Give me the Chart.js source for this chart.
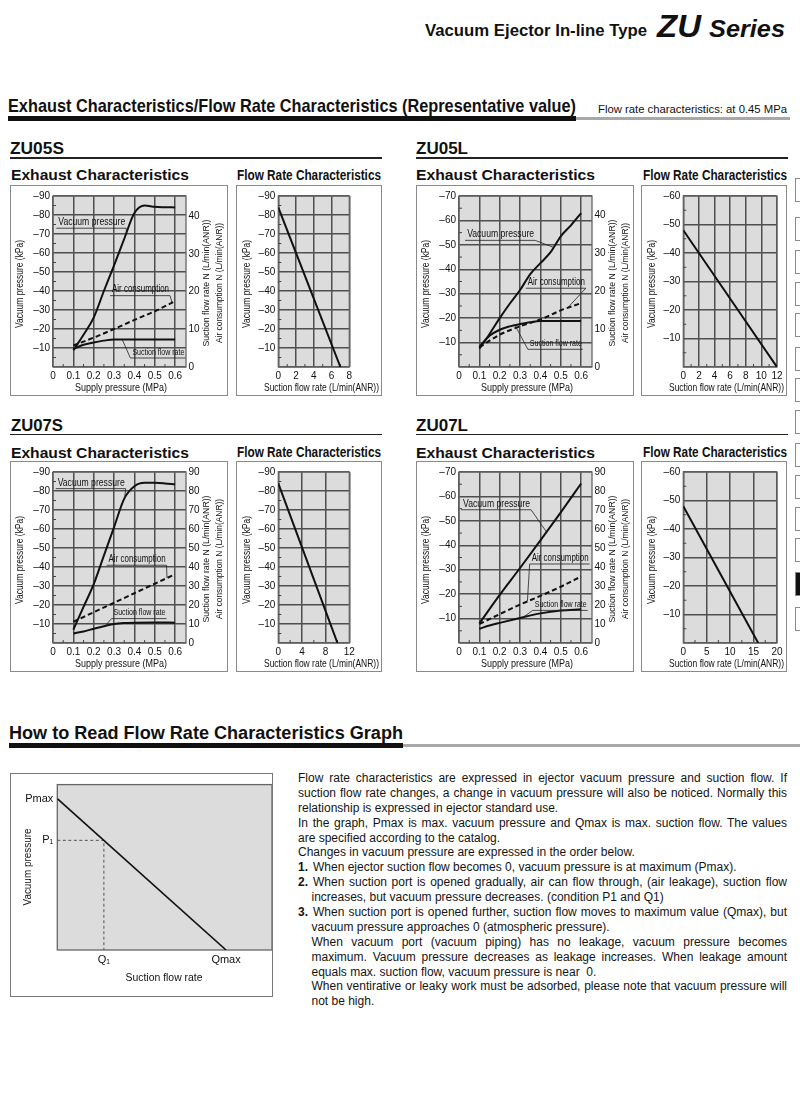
<!DOCTYPE html>
<html>
<head>
<meta charset="utf-8">
<script src="https://cdn.jsdelivr.net/npm/chart.js@4.4.1/dist/chart.umd.min.js"></script>
<style>
body{margin:0;background:#fff;font-family:"Liberation Sans",Arial,Helvetica,sans-serif;color:#111;}
#page{position:relative;width:800px;height:1100px;overflow:hidden;}
.t{position:absolute;white-space:nowrap;line-height:1;transform-origin:0 50%;}
.b{font-weight:bold;}
.bar{position:absolute;}
.box{position:absolute;border:1px solid #8a8a8a;box-sizing:border-box;}
.box canvas{position:absolute;left:0;top:0;}
.tab{position:absolute;left:795px;width:12px;height:24px;border:1px solid #8a8a8a;box-sizing:border-box;}
#para{position:absolute;left:298px;top:771px;width:489px;font-size:12px;line-height:14.9px;color:#141414;}
#para div{white-space:nowrap;height:14.9px;}
#para span{display:inline-block;transform-origin:0 50%;}
#para .in{padding-left:13.5px;}
#para .n{width:15px;font-weight:bold;}
</style>
</head>
<body>
<div id="page">

<!-- header -->
<div class="t b" data-w="222" style="left:425px;top:22px;font-size:17px;">Vacuum Ejector In-line Type</div>
<div class="t b" data-w="44" style="left:657px;top:11px;font-size:31px;font-style:italic;">ZU</div>
<div class="t b" data-w="76" style="left:709px;top:17px;font-size:24px;font-style:italic;">Series</div>

<div class="t b" data-w="568" style="left:8px;top:96px;font-size:19px;">Exhaust Characteristics/Flow Rate Characteristics (Representative value)</div>
<div class="t" data-w="189" style="left:598px;top:104px;font-size:11px;">Flow rate characteristics: at 0.45 MPa</div>
<div class="bar" style="left:8px;top:116px;width:568px;height:5px;background:#111;"></div>
<div class="bar" style="left:576px;top:117px;width:214px;height:3px;background:#a8a8a8;"></div>

<!-- row 1 -->
<div class="t b" data-w="54" style="left:10px;top:139.5px;font-size:17px;">ZU05S</div>
<div class="bar" style="left:10px;top:157px;width:372px;height:1.5px;background:#222;"></div>
<div class="t b" data-w="178" style="left:11px;top:167px;font-size:15.5px;">Exhaust Characteristics</div>
<div class="t b" data-w="144" style="left:237px;top:167.5px;font-size:14.5px;">Flow Rate Characteristics</div>
<div class="box" style="left:10px;top:185px;width:218px;height:211px;"><canvas id="ex05s" width="216" height="209"></canvas></div>
<div class="box" style="left:236px;top:185px;width:146px;height:211px;"><canvas id="fl05s" width="144" height="209"></canvas></div>

<div class="t b" data-w="52" style="left:416px;top:139.5px;font-size:17px;">ZU05L</div>
<div class="bar" style="left:416px;top:157px;width:372px;height:1.5px;background:#222;"></div>
<div class="t b" data-w="179" style="left:416px;top:167px;font-size:15.5px;">Exhaust Characteristics</div>
<div class="t b" data-w="144" style="left:643px;top:167.5px;font-size:14.5px;">Flow Rate Characteristics</div>
<div class="box" style="left:416px;top:185px;width:218px;height:211px;"><canvas id="ex05l" width="216" height="209"></canvas></div>
<div class="box" style="left:641px;top:185px;width:146px;height:211px;"><canvas id="fl05l" width="144" height="209"></canvas></div>

<!-- row 2 -->
<div class="t b" data-w="52" style="left:11px;top:416.5px;font-size:17px;">ZU07S</div>
<div class="bar" style="left:10px;top:433.5px;width:372px;height:1.5px;background:#222;"></div>
<div class="t b" data-w="178" style="left:11px;top:444.5px;font-size:15.5px;">Exhaust Characteristics</div>
<div class="t b" data-w="144" style="left:237px;top:445px;font-size:14.5px;">Flow Rate Characteristics</div>
<div class="box" style="left:10px;top:461px;width:218px;height:211px;"><canvas id="ex07s" width="216" height="209"></canvas></div>
<div class="box" style="left:236px;top:461px;width:146px;height:211px;"><canvas id="fl07s" width="144" height="209"></canvas></div>

<div class="t b" data-w="52" style="left:416px;top:416.5px;font-size:17px;">ZU07L</div>
<div class="bar" style="left:416px;top:433.5px;width:372px;height:1.5px;background:#222;"></div>
<div class="t b" data-w="179" style="left:416px;top:444.5px;font-size:15.5px;">Exhaust Characteristics</div>
<div class="t b" data-w="144" style="left:643px;top:445px;font-size:14.5px;">Flow Rate Characteristics</div>
<div class="box" style="left:416px;top:461px;width:218px;height:211px;"><canvas id="ex07l" width="216" height="209"></canvas></div>
<div class="box" style="left:641px;top:461px;width:146px;height:211px;"><canvas id="fl07l" width="144" height="209"></canvas></div>

<!-- how to read -->
<div class="t b" data-w="394" style="left:9px;top:724px;font-size:18px;">How to Read Flow Rate Characteristics Graph</div>
<div class="bar" style="left:9px;top:743px;width:394px;height:4.5px;background:#111;"></div>
<div class="bar" style="left:403px;top:744px;width:397px;height:3px;background:#a8a8a8;"></div>
<div class="box" style="left:10px;top:773px;width:263px;height:224px;border-color:#777;"><canvas id="howto" width="261" height="222"></canvas></div>

<div id="para">
<div class="j"><span>Flow rate characteristics are expressed in ejector vacuum pressure and suction flow. If</span></div>
<div class="j"><span>suction flow rate changes, a change in vacuum pressure will also be noticed. Normally this</span></div>
<div><span>relationship is expressed in ejector standard use.</span></div>
<div class="j"><span>In the graph, Pmax is max. vacuum pressure and Qmax is max. suction flow. The values</span></div>
<div><span>are specified according to the catalog.</span></div>
<div><span>Changes in vacuum pressure are expressed in the order below.</span></div>
<div><span class="n">1.</span><span>When ejector suction flow becomes 0, vacuum pressure is at maximum (Pmax).</span></div>
<div class="j"><span class="n">2.</span><span data-sub="15">When suction port is opened gradually, air can flow through, (air leakage), suction flow</span></div>
<div class="in"><span>increases, but vacuum pressure decreases. (condition P1 and Q1)</span></div>
<div class="j"><span class="n">3.</span><span data-sub="15">When suction port is opened further, suction flow moves to maximum value (Qmax), but</span></div>
<div class="in"><span>vacuum pressure approaches 0 (atmospheric pressure).</span></div>
<div class="j in"><span data-sub="13.5">When vacuum port (vacuum piping) has no leakage, vacuum pressure becomes</span></div>
<div class="j in"><span data-sub="13.5">maximum. Vacuum pressure decreases as leakage increases. When leakage amount</span></div>
<div class="in"><span>equals max. suction flow, vacuum pressure is near&nbsp; 0.</span></div>
<div class="j in"><span data-sub="13.5">When ventirative or leaky work must be adsorbed, please note that vacuum pressure will</span></div>
<div class="in"><span>not be high.</span></div>
</div>

<div id="tabs"></div>
</div>

<script>
// ===============================
// DATA
// ===============================

const supplyTicks = [0, 0.1, 0.2, 0.3, 0.4, 0.5, 0.6];

// ZU05S exhaust
const zu05sVacX = [0.1, 0.15, 0.2, 0.25, 0.3, 0.35, 0.4, 0.45, 0.5, 0.55, 0.6];
const zu05sVac  = [-8.8, -17, -26, -40, -53.5, -67.5, -81, -85, -84.3, -84.1, -84];
const zu05sAirX = [0.1, 0.2, 0.3, 0.4, 0.5, 0.59];
const zu05sAir  = [5.7, 7.8, 10.1, 12.5, 14.8, 17.2];
const zu05sSucX = [0.1, 0.15, 0.2, 0.25, 0.3, 0.4, 0.5, 0.6];
const zu05sSuc  = [4.8, 5.9, 6.5, 7.0, 7.3, 7.3, 7.3, 7.3];

// ZU05L exhaust
const zu05lVacX = [0.1, 0.15, 0.2, 0.25, 0.3, 0.35, 0.4, 0.45, 0.5, 0.55, 0.6];
const zu05lVac  = [-7.5, -13.5, -20, -26, -31.5, -38, -42.5, -47, -53.5, -58, -63];
const zu05lAirX = [0.1, 0.2, 0.3, 0.4, 0.5, 0.6];
const zu05lAir  = [5.2, 8.5, 10.7, 12.5, 14.9, 16.8];
const zu05lSucX = [0.1, 0.15, 0.2, 0.25, 0.3, 0.35, 0.4, 0.5, 0.6];
const zu05lSuc  = [5.3, 8.2, 9.8, 10.7, 11.3, 11.8, 12.1, 12.1, 12.1];

// ZU07S exhaust
const zu07sVacX = [0.1, 0.15, 0.2, 0.25, 0.3, 0.35, 0.4, 0.45, 0.5, 0.55, 0.6];
const zu07sVac  = [-7, -19, -31, -46, -61, -76, -82.5, -84.3, -84.3, -84, -83.5];
const zu07sAirX = [0.1, 0.2, 0.3, 0.4, 0.5, 0.59];
const zu07sAir  = [11.2, 16.2, 21.2, 26.2, 31.2, 35.7];
const zu07sSucX = [0.1, 0.15, 0.2, 0.25, 0.3, 0.35, 0.4, 0.5, 0.6];
const zu07sSuc  = [5.0, 6.1, 7.5, 8.8, 10.0, 10.5, 10.7, 10.8, 10.7];

// ZU07L exhaust
const zu07lVacX = [0.1, 0.2, 0.3, 0.4, 0.5, 0.6];
const zu07lVac  = [-8, -19.7, -30.7, -42, -53.5, -65.3];
const zu07lAirX = [0.1, 0.2, 0.3, 0.4, 0.5, 0.6];
const zu07lAir  = [10, 15.2, 20.2, 24.8, 29.6, 35];
const zu07lSucX = [0.1, 0.15, 0.2, 0.3, 0.4, 0.5, 0.6];
const zu07lSuc  = [7.5, 9.2, 10.6, 13.2, 15.6, 17.1, 17.7];

// flow rate characteristics (suction flow L/min(ANR) -> vacuum kPa)
const zu05sFlowQ = [0, 7];
const zu05sFlowP = [-84, 0];
const zu05lFlowQ = [0, 12];
const zu05lFlowP = [-48, 0];
const zu07sFlowQ = [0, 10];
const zu07sFlowP = [-84, 0];
const zu07lFlowQ = [0, 16];
const zu07lFlowP = [-48, 0];

const flowTicks05s = [0, 2, 4, 6, 8];
const flowTicks05l = [0, 2, 4, 6, 8, 10, 12];
const flowTicks07s = [0, 4, 8, 12];
const flowTicks07l = [0, 5, 10, 15, 20];

const vacTicks90 = [-90, -80, -70, -60, -50, -40, -30, -20, -10, 0];
const vacTicks70 = [-70, -60, -50, -40, -30, -20, -10, 0];
const vacTicks60 = [-60, -50, -40, -30, -20, -10, 0];
const flowTicks40 = [0, 10, 20, 30, 40];
const flowTicks90 = [0, 10, 20, 30, 40, 50, 60, 70, 80, 90];

// how to read (relative units)
const howQ = [0, 78.6];
const howP = [91.5, 0];
const howGuideQ = [0, 21.7, 21.7];
const howGuideP = [66.3, 66.3, 0];
const howXTicks = [21.7, 78.6];
const howXLabels = ["Q\u2081", "Qmax"];
const howYTicks = [66.3, 91.5];
const howYLabels = ["P\u2081", "Pmax"];

// ===============================
// HELPERS
// ===============================

const SANS = '"Liberation Sans", Arial, Helvetica, sans-serif';
const INK = "#111";
const GRID = "#4f4f4f";
const PLOT_BG = "#dcdcdc";

function pts(xs, ys) {
  return xs.map((x, i) => ({ x: x, y: ys[i] }));
}

function fixTicks(list) {
  return scale => { scale.ticks = list.map(v => ({ value: v })); };
}

function drawFitText(ctx, text, x, y, o) {
  ctx.save();
  ctx.font = (o.weight || "normal") + " " + o.size + "px " + SANS;
  const w = ctx.measureText(text).width;
  const sx = o.width ? o.width / w : 1;
  ctx.translate(x, y);
  if (o.rot) ctx.rotate(o.rot);
  ctx.scale(sx, 1);
  ctx.textAlign = o.align || "center";
  ctx.textBaseline = "middle";
  ctx.fillStyle = o.color || INK;
  ctx.fillText(text, 0, 0);
  ctx.restore();
  return w * sx;
}

// gray plot, frame and small in-between ticks
Chart.register({
  id: "plotFrame",
  beforeDraw(chart) {
    const a = chart.chartArea, ctx = chart.ctx;
    ctx.save();
    ctx.fillStyle = PLOT_BG;
    ctx.fillRect(a.left, a.top, a.right - a.left, a.bottom - a.top);
    ctx.restore();
  },
  beforeDatasetsDraw(chart, args, opts) {
    const a = chart.chartArea, ctx = chart.ctx;
    ctx.save();
    ctx.strokeStyle = "#666";
    ctx.lineWidth = 1.3;
    ctx.strokeRect(a.left, a.top, a.right - a.left, a.bottom - a.top);
    if (opts.minor) {
      ctx.strokeStyle = "#444";
      ctx.lineWidth = 1;
      ctx.beginPath();
      const ys = chart.scales.y, xs = chart.scales.x;
      const yt = ys.ticks.map(t => t.value);
      for (let i = 1; i < yt.length; i++) {
        const py = ys.getPixelForValue((yt[i - 1] + yt[i]) / 2);
        ctx.moveTo(a.left, py); ctx.lineTo(a.left + 3, py);
      }
      const xt = xs.ticks.map(t => t.value);
      for (let i = 1; i < xt.length; i++) {
        const px = xs.getPixelForValue((xt[i - 1] + xt[i]) / 2);
        ctx.moveTo(px, a.bottom); ctx.lineTo(px, a.bottom - 3);
      }
      ctx.stroke();
    }
    ctx.restore();
  }
});

// axis titles
Chart.register({
  id: "axisText",
  afterDraw(chart, args, opts) {
    if (!opts.items) return;
    opts.items.forEach(t => {
      drawFitText(chart.ctx, t.text, t.x, t.y, { size: t.size, width: t.width, rot: t.rot ? -Math.PI / 2 : 0 });
    });
  }
});

// callout labels with leader lines
const noteStyle = {
  "Vacuum pressure": { size: 10.5, width: 67 },
  "Air consumption": { size: 10, width: 57 },
  "Suction flow rate": { size: 9.5, width: 52 }
};

Chart.register({
  id: "callouts",
  afterDatasetsDraw(chart, args, opts) {
    if (!opts.items) return;
    const ctx = chart.ctx, xs = chart.scales.x, ys = chart.scales.y;
    opts.items.forEach(n => {
      const x = xs.getPixelForValue(n.tx), y = ys.getPixelForValue(n.ty);
      const st = noteStyle[n.text];
      const w = drawFitText(ctx, n.text, x, y, { size: st.size, width: st.width, align: "left" });
      const uy = y + 6;
      const line = chart.getDatasetMeta(n.series).data;
      const px = xs.getPixelForValue(n.px);
      let py = line[0].y;
      for (let i = 1; i < line.length; i++) {
        if (line[i].x >= px) {
          const a = line[i - 1], b = line[i];
          py = a.y + (b.y - a.y) * (px - a.x) / (b.x - a.x);
          break;
        }
      }
      const sx = n.side === "left" ? x - 2 : x + w + 1;
      ctx.save();
      ctx.strokeStyle = "#222";
      ctx.lineWidth = 0.8;
      ctx.beginPath();
      ctx.moveTo(x - 2, uy); ctx.lineTo(x + w + 1, uy);
      ctx.moveTo(sx, uy); ctx.lineTo(px, py);
      ctx.stroke();
      ctx.restore();
    });
  }
});

const tickFont = { family: SANS, size: 10 };
const minusLabel = v => (v === 0 ? "" : "\u2013" + Math.abs(v));

function lineSet(data, axis, dash) {
  return {
    data: data, yAxisID: axis,
    borderColor: INK, borderWidth: 2,
    borderDash: dash || [],
    pointRadius: 0, fill: false,
    cubicInterpolationMode: "monotone"
  };
}

// ===============================
// EXHAUST CHARTS
// ===============================

function makeExhaust(id, c) {
  return new Chart(document.getElementById(id), {
    type: "line",
    data: {
      datasets: [
        lineSet(pts(c.vacX, c.vac), "y"),
        lineSet(pts(c.airX, c.air), "y2", [5, 3]),
        lineSet(pts(c.sucX, c.suc), "y2")
      ]
    },
    options: {
      responsive: false, animation: false, events: [],
      layout: { padding: { top: 10, left: 0, right: 0, bottom: 0 } },
      plugins: {
        legend: { display: false }, tooltip: { enabled: false },
        plotFrame: { minor: true },
        axisText: { items: [
          { text: "Vacuum pressure (kPa)", x: 9.5, y: 98, size: 10.5, width: 88, rot: true },
          { text: "Suction flow rate N (L/min(ANR))", x: 195, y: 97, size: 9.5, width: 127, rot: true },
          { text: "Air consumption N (L/min(ANR))", x: 208, y: 97, size: 9.5, width: 120, rot: true },
          { text: "Supply pressure (MPa)", x: 110, y: 202, size: 10.5, width: 92 }
        ] },
        callouts: { items: c.notes }
      },
      scales: {
        x: {
          type: "linear", min: 0, max: 0.6534,
          afterBuildTicks: fixTicks(supplyTicks),
          afterFit: s => { s.height = 28; },
          ticks: { font: tickFont, color: INK, padding: 3.5, maxRotation: 0, autoSkip: false,
                   callback: v => (v === 0 ? "0" : v.toFixed(1)) },
          grid: { color: GRID, lineWidth: 1.5, drawTicks: false },
          border: { display: false }
        },
        y: {
          position: "left", min: c.vacMin, max: 0, reverse: true,
          afterBuildTicks: fixTicks(c.vacTicks),
          afterFit: s => { s.width = 42; },
          ticks: { font: tickFont, color: INK, padding: 3, callback: minusLabel },
          grid: { color: GRID, lineWidth: 1.5, drawTicks: false },
          border: { display: false }
        },
        y2: {
          position: "right", min: 0, max: c.flowMax,
          afterBuildTicks: fixTicks(c.flowTicks),
          afterFit: s => { s.width = 41; },
          ticks: { font: tickFont, color: INK, padding: 2.5 },
          grid: { display: false, drawTicks: false },
          border: { display: false }
        }
      }
    }
  });
}

makeExhaust("ex05s", {
  vacX: zu05sVacX, vac: zu05sVac, airX: zu05sAirX, air: zu05sAir, sucX: zu05sSucX, suc: zu05sSuc,
  vacMin: -90, vacTicks: vacTicks90, flowMax: 45.4, flowTicks: flowTicks40,
  notes: [
    { text: "Vacuum pressure", series: 0, tx: 0.026, ty: -76.2, px: 0.36, side: "right" },
    { text: "Air consumption", series: 1, tx: 0.29, ty: -40.7, px: 0.585, side: "right" },
    { text: "Suction flow rate", series: 2, tx: 0.39, ty: -7.9, px: 0.34, side: "left" }
  ]
});

makeExhaust("ex05l", {
  vacX: zu05lVacX, vac: zu05lVac, airX: zu05lAirX, air: zu05lAir, sucX: zu05lSucX, suc: zu05lSuc,
  vacMin: -70, vacTicks: vacTicks70, flowMax: 45, flowTicks: flowTicks40,
  notes: [
    { text: "Vacuum pressure", series: 0, tx: 0.04, ty: -54.3, px: 0.465, side: "right" },
    { text: "Air consumption", series: 1, tx: 0.338, ty: -34.7, px: 0.533, side: "right" },
    { text: "Suction flow rate", series: 2, tx: 0.348, ty: -9.7, px: 0.275, side: "left" }
  ]
});

makeExhaust("ex07s", {
  vacX: zu07sVacX, vac: zu07sVac, airX: zu07sAirX, air: zu07sAir, sucX: zu07sSucX, suc: zu07sSuc,
  vacMin: -90, vacTicks: vacTicks90, flowMax: 90, flowTicks: flowTicks90,
  notes: [
    { text: "Vacuum pressure", series: 0, tx: 0.023, ty: -84.4, px: 0.352, side: "right" },
    { text: "Air consumption", series: 1, tx: 0.273, ty: -44.1, px: 0.56, side: "right" },
    { text: "Suction flow rate", series: 2, tx: 0.297, ty: -16, px: 0.256, side: "left" }
  ]
});

makeExhaust("ex07l", {
  vacX: zu07lVacX, vac: zu07lVac, airX: zu07lAirX, air: zu07lAir, sucX: zu07lSucX, suc: zu07lSuc,
  vacMin: -70, vacTicks: vacTicks70, flowMax: 90, flowTicks: flowTicks90,
  notes: [
    { text: "Vacuum pressure", series: 0, tx: 0.02, ty: -57, px: 0.43, side: "right" },
    { text: "Air consumption", series: 1, tx: 0.357, ty: -34.8, px: 0.336, side: "left" },
    { text: "Suction flow rate", series: 2, tx: 0.372, ty: -15.8, px: 0.315, side: "left" }
  ]
});

// ===============================
// FLOW RATE CHARTS
// ===============================

function makeFlow(id, c) {
  return new Chart(document.getElementById(id), {
    type: "line",
    data: { datasets: [ lineSet(pts(c.q, c.p), "y") ] },
    options: {
      responsive: false, animation: false, events: [],
      layout: { padding: { top: 10, left: 0, right: c.padRight, bottom: 0 } },
      plugins: {
        legend: { display: false }, tooltip: { enabled: false },
        plotFrame: { minor: true },
        axisText: { items: [
          { text: "Vacuum pressure (kPa)", x: 10.5, y: 98, size: 10.5, width: 88, rot: true },
          { text: "Suction flow rate (L/min(ANR))", x: 84.5, y: 202, size: 10.5, width: 115 }
        ] }
      },
      scales: {
        x: {
          type: "linear", min: 0, max: c.qMax,
          afterBuildTicks: fixTicks(c.qTicks),
          afterFit: s => { s.height = 28; },
          ticks: { font: tickFont, color: INK, padding: 3.5, maxRotation: 0, autoSkip: false },
          grid: { color: GRID, lineWidth: 1.5, drawTicks: false },
          border: { display: false }
        },
        y: {
          position: "left", min: c.pMin, max: 0, reverse: true,
          afterBuildTicks: fixTicks(c.pTicks),
          afterFit: s => { s.width = 41.3; },
          ticks: { font: tickFont, color: INK, padding: 3, callback: minusLabel },
          grid: { color: GRID, lineWidth: 1.5, drawTicks: false },
          border: { display: false }
        }
      }
    }
  });
}

makeFlow("fl05s", { q: zu05sFlowQ, p: zu05sFlowP, qMax: 8, qTicks: flowTicks05s, pMin: -90, pTicks: vacTicks90, padRight: 31.7 });
makeFlow("fl05l", { q: zu05lFlowQ, p: zu05lFlowP, qMax: 12, qTicks: flowTicks05l, pMin: -60, pTicks: vacTicks60, padRight: 7 });
makeFlow("fl07s", { q: zu07sFlowQ, p: zu07sFlowP, qMax: 12, qTicks: flowTicks07s, pMin: -90, pTicks: vacTicks90, padRight: 31.7 });
makeFlow("fl07l", { q: zu07lFlowQ, p: zu07lFlowP, qMax: 20, qTicks: flowTicks07l, pMin: -60, pTicks: vacTicks60, padRight: 8.3 });

// ===============================
// HOW TO READ CHART
// ===============================

new Chart(document.getElementById("howto"), {
  type: "line",
  data: {
    datasets: [
      { data: pts(howQ, howP), borderColor: INK, borderWidth: 1.6, pointRadius: 0 },
      { data: pts(howGuideQ, howGuideP), borderColor: "#555", borderWidth: 1, borderDash: [3, 2.5], pointRadius: 0 }
    ]
  },
  options: {
    responsive: false, animation: false, events: [],
    layout: { padding: 0 },
    plugins: {
      legend: { display: false }, tooltip: { enabled: false },
      axisText: { items: [
        { text: "Vacuum pressure", x: 17, y: 93, size: 11, width: 77, rot: true },
        { text: "Suction flow rate", x: 153, y: 204, size: 11, width: 77 }
      ] }
    },
    scales: {
      x: {
        type: "linear", min: 0, max: 100,
        afterBuildTicks: fixTicks(howXTicks),
        afterFit: s => { s.height = 46; },
        ticks: { font: { family: SANS, size: 11 }, color: INK, padding: 3.5, maxRotation: 0, autoSkip: false,
                 callback: (v, i) => howXLabels[i] },
        grid: { display: false, drawTicks: false },
        border: { display: false }
      },
      y: {
        min: 0, max: 100,
        afterBuildTicks: fixTicks(howYTicks),
        afterFit: s => { s.width = 46.3; },
        ticks: { font: { family: SANS, size: 11 }, color: INK, padding: 4,
                 callback: (v, i) => howYLabels[i] },
        grid: { display: false, drawTicks: false },
        border: { display: false }
      }
    }
  }
});

// ===============================
// TEXT FITTING
// ===============================

document.querySelectorAll(".t[data-w]").forEach(el => {
  const w = el.getBoundingClientRect().width;
  el.style.transform = "scaleX(" + (Number(el.dataset.w) / w) + ")";
});

document.querySelectorAll("#para .j").forEach(row => {
  const spans = row.querySelectorAll("span");
  const sp = spans[spans.length - 1];
  const target = 489 - Number(sp.dataset.sub || 0);
  const natural = sp.getBoundingClientRect().width;
  const gaps = (sp.textContent.match(/ /g) || []).length;
  if (natural < target) {
    sp.style.wordSpacing = ((target - natural) / gaps) + "px";
  } else {
    sp.style.transform = "scaleX(" + (target / natural) + ")";
  }
});

// side tabs
const tabTops = [178, 216.5, 250, 281.5, 313, 346.5, 378, 410, 443, 475, 506.5, 538, 571.5, 606.5];
const tabs = document.getElementById("tabs");
tabTops.forEach((t, i) => {
  const d = document.createElement("div");
  d.className = "tab";
  d.style.top = t + "px";
  if (i === 12) d.style.background = "#111";
  tabs.appendChild(d);
});
</script>
</body>
</html>
